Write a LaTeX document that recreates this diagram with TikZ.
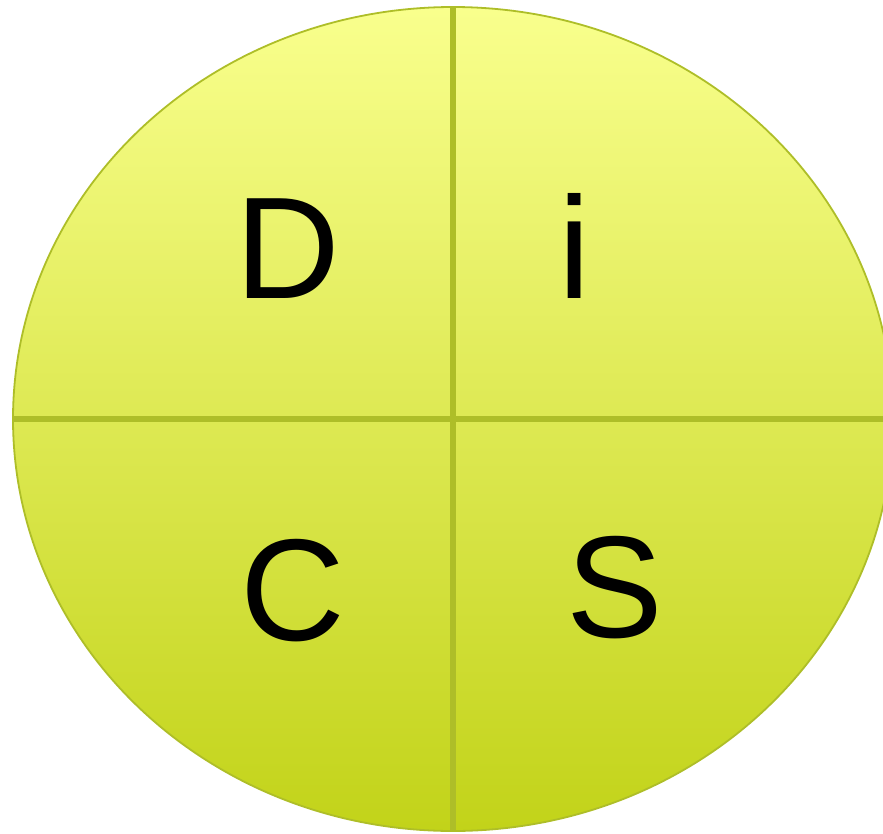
\documentclass[tikz,border=0pt]{standalone}
\usepackage{fontspec}
\setmainfont{Liberation Sans}
\definecolor{topc}{HTML}{F9FF8D}
\definecolor{botc}{HTML}{C2D319}
\definecolor{linec}{HTML}{AEBE28}
\tikzset{
  letter/.style={anchor=base, inner sep=0pt, font=\fontsize{145}{145}\selectfont, text=black},
  divider/.style={draw=linec, line width=5.5pt}
}
\begin{document}
\begin{tikzpicture}[x=1pt,y=-1pt]
\useasboundingbox (0,0) rectangle (883,833);
\begin{scope}
\clip (0,0) rectangle (883,833);
\shade[top color=topc, bottom color=botc, draw=linec, line width=1.8pt]
  (453,419) ellipse [x radius=440, y radius=412];
\begin{scope}
\clip (453,419) ellipse [x radius=440, y radius=412];
\coordinate (vt) at (453,0);
\coordinate (vb) at (453,833);
\coordinate (hl) at (0,419);
\coordinate (hr) at (900,419);
\draw[divider] (vt) -- (vb);
\draw[divider] (hl) -- (hr);
\end{scope}
\end{scope}
\node[letter] (D) at (288,298) {D};
\node[letter] (i) at (575,298) {i};
\node[letter] (C) at (293,640) {C};
\node[letter] (S) at (615,637) {S};
\end{tikzpicture}
\end{document}
